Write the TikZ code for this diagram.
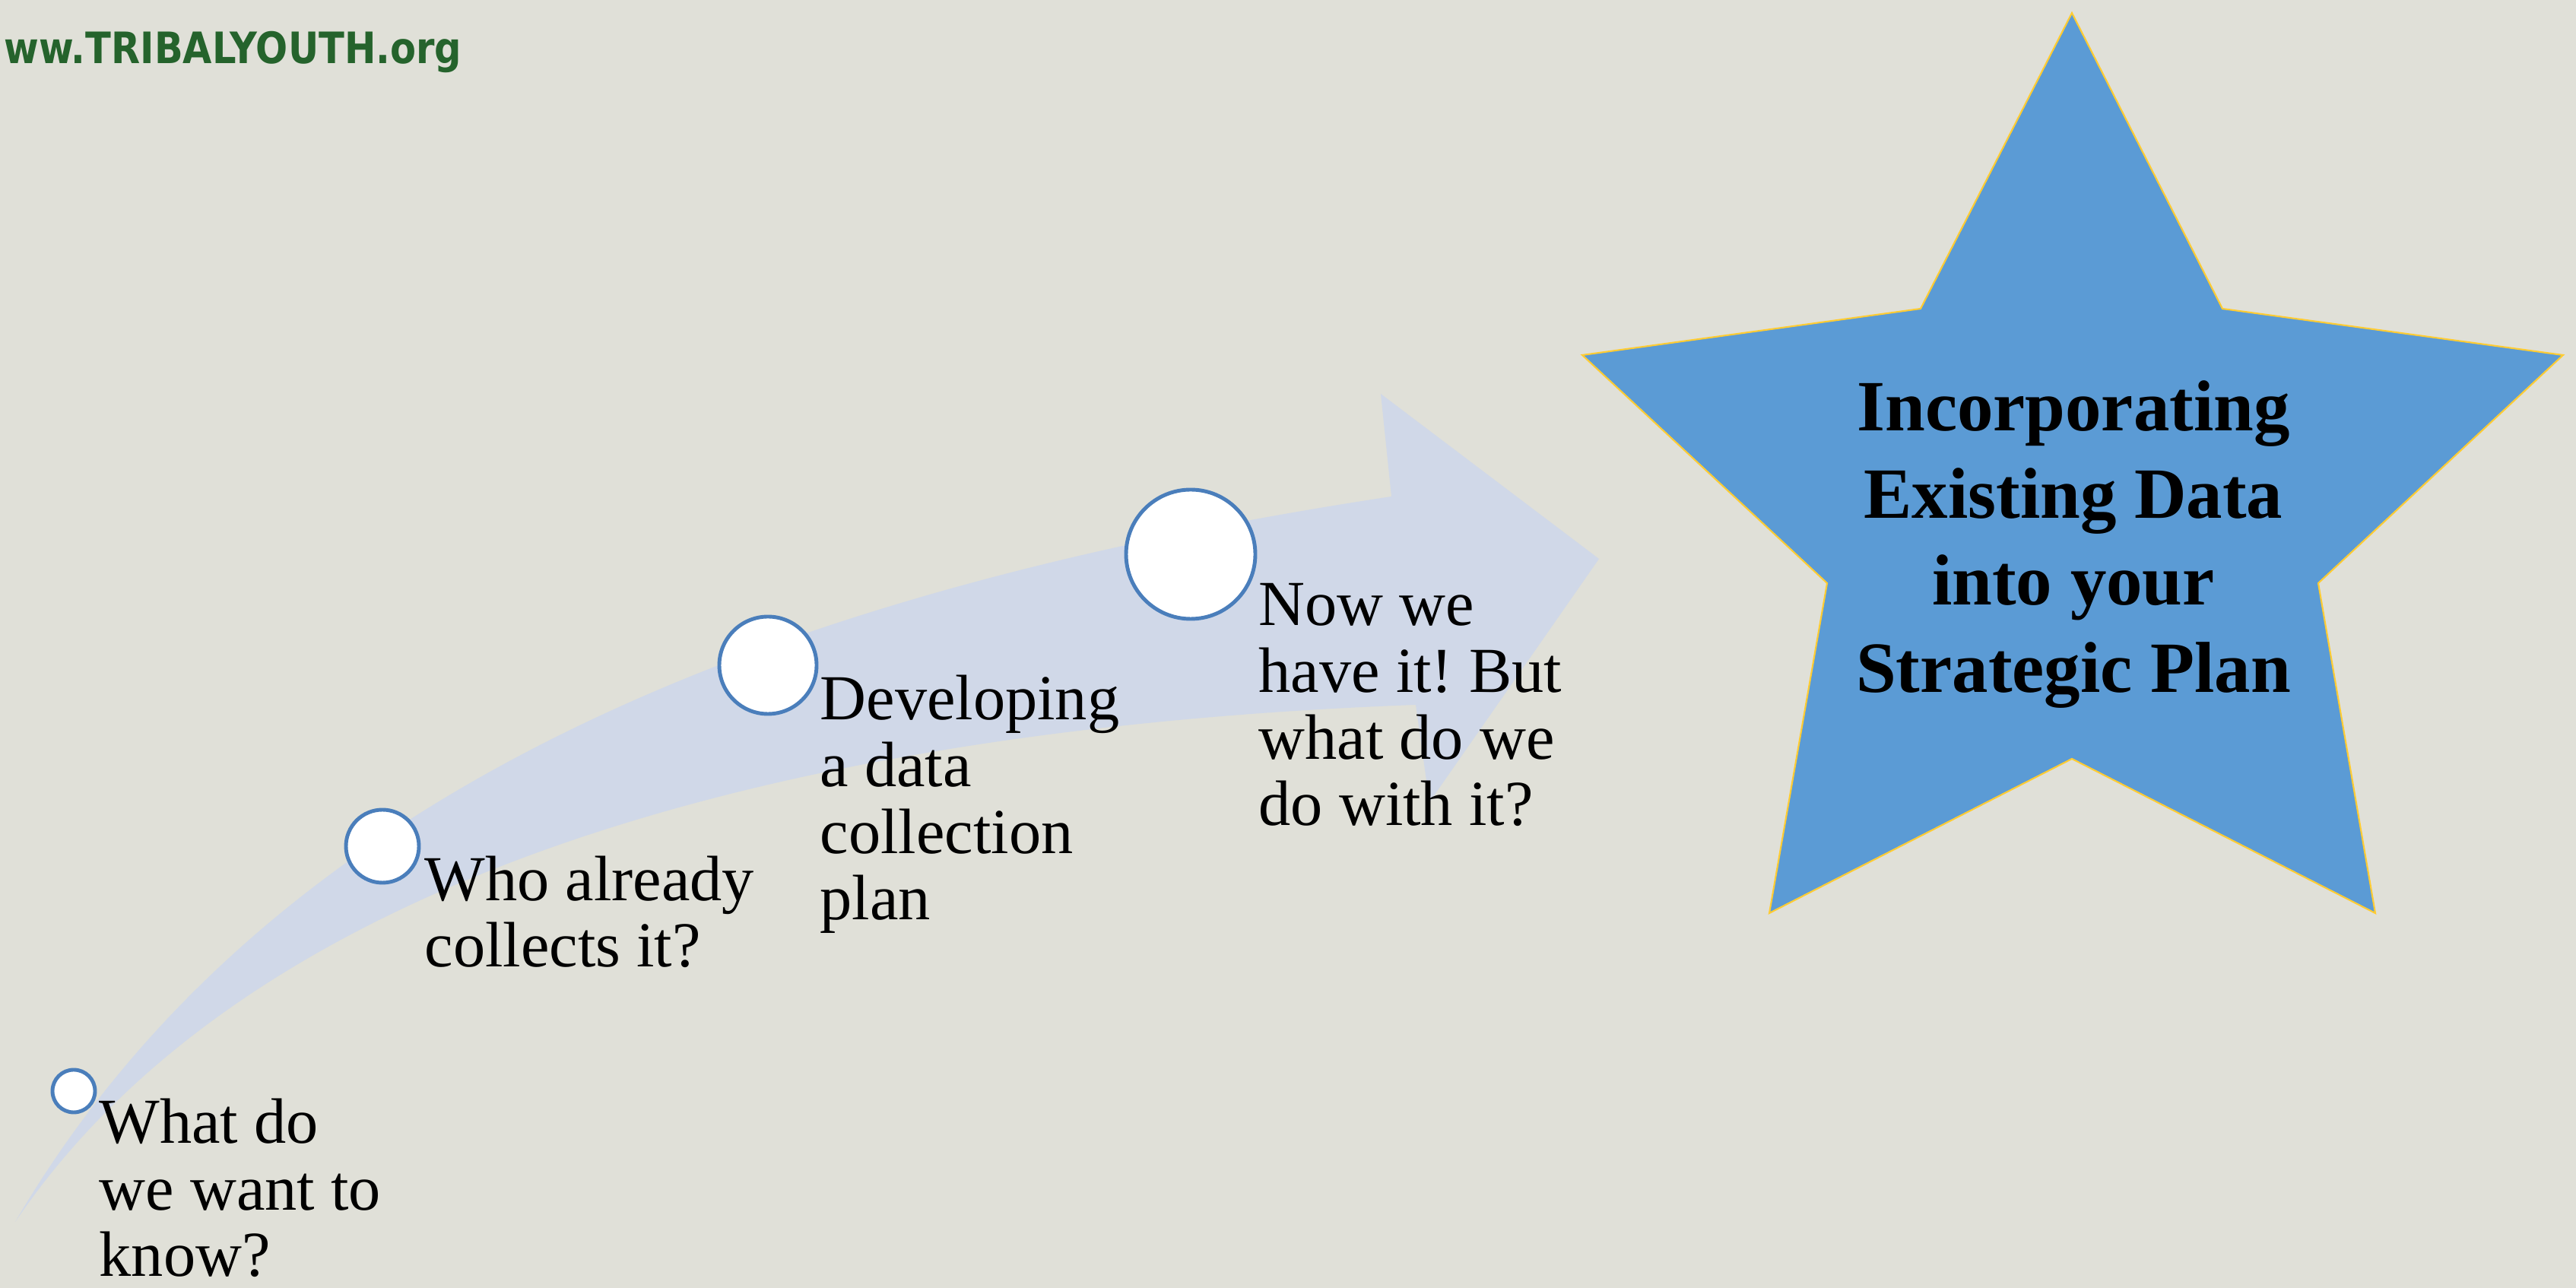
\documentclass[tikz,border=0pt]{standalone}
\usepackage{fontspec}
\setmainfont{Liberation Serif}
\newfontfamily\webfont[FakeStretch=0.87]{DejaVu Sans}
\usepackage{tikz}
\usepackage[]{xcolor}
\usetikzlibrary{positioning,calc}
\frenchspacing

\definecolor{bgcol}{RGB}{224,224,216}
\definecolor{arrowcol}{RGB}{208,216,232}
\definecolor{starcol}{RGB}{91,155,213}
\definecolor{starline}{RGB}{255,204,51}
\definecolor{ringcol}{RGB}{74,126,187}
\definecolor{webgreen}{RGB}{37,99,44}

\begin{document}
\begin{tikzpicture}[
    stepdot/.style={circle,draw=ringcol,line width=1.4pt,fill=white,inner sep=0pt},
    steptext/.style={anchor=base west,align=left,inner sep=0pt,font=\fontsize{24}{25}\selectfont}]
  \useasboundingbox[fill=bgcol] (0,0) rectangle (33.88,16.94);
  % curved arrow behind the steps
  \fill[arrowcol] (0.20,0.87) .. controls (3.5,6.5) and (10,9.15) .. (18.30,10.41)
    -- (18.16,11.76) -- (21.03,9.59) -- (18.80,6.39) -- (18.62,7.67)
    .. controls (10,7.35) and (3.2,5.3) .. (0.20,0.87) -- cycle;
  % steps
  \node[stepdot,minimum size=0.56cm] (c1) at (0.97,2.59) {};
  \node[stepdot,minimum size=0.96cm] (c2) at (5.03,5.81) {};
  \node[stepdot,minimum size=1.28cm] (c3) at (10.10,8.19) {};
  \node[stepdot,minimum size=1.70cm] (c4) at (15.66,9.65) {};
  % base = last line
  \node[steptext] (t1) at (1.30,0.15) {What do\\we want to\\know?};
  \node[steptext] (t2) at (5.58,4.22) {Who already\\collects it?};
  \node[steptext] (t3) at (10.78,4.84) {Developing\\a data\\collection\\plan};
  \node[steptext] (t4) at (16.55,6.08) {Now we\\have it! But\\what do we\\do with it?};
  % star
  \draw[draw=starline,fill=starcol,line width=0.6pt] (27.25,16.77) -- (29.23,12.88) -- (33.71,12.27)
    -- (30.49,9.27) -- (31.24,4.93) -- (27.25,6.96) -- (23.27,4.93) -- (24.03,9.27)
    -- (20.81,12.27) -- (25.26,12.88) -- cycle;
  \node[align=center,inner sep=0pt,font=\bfseries\fontsize{27}{32.6}\selectfont] (goal) at (27.27,9.78)
    {Incorporating\\Existing Data\\into your\\Strategic Plan};
  \node[anchor=base east,inner sep=0pt,text=webgreen,font=\webfont\bfseries\fontsize{16.2}{18}\selectfont] (web) at (6.08,16.10) {ww.TRIBALYOUTH.org};
\end{tikzpicture}
\end{document}
